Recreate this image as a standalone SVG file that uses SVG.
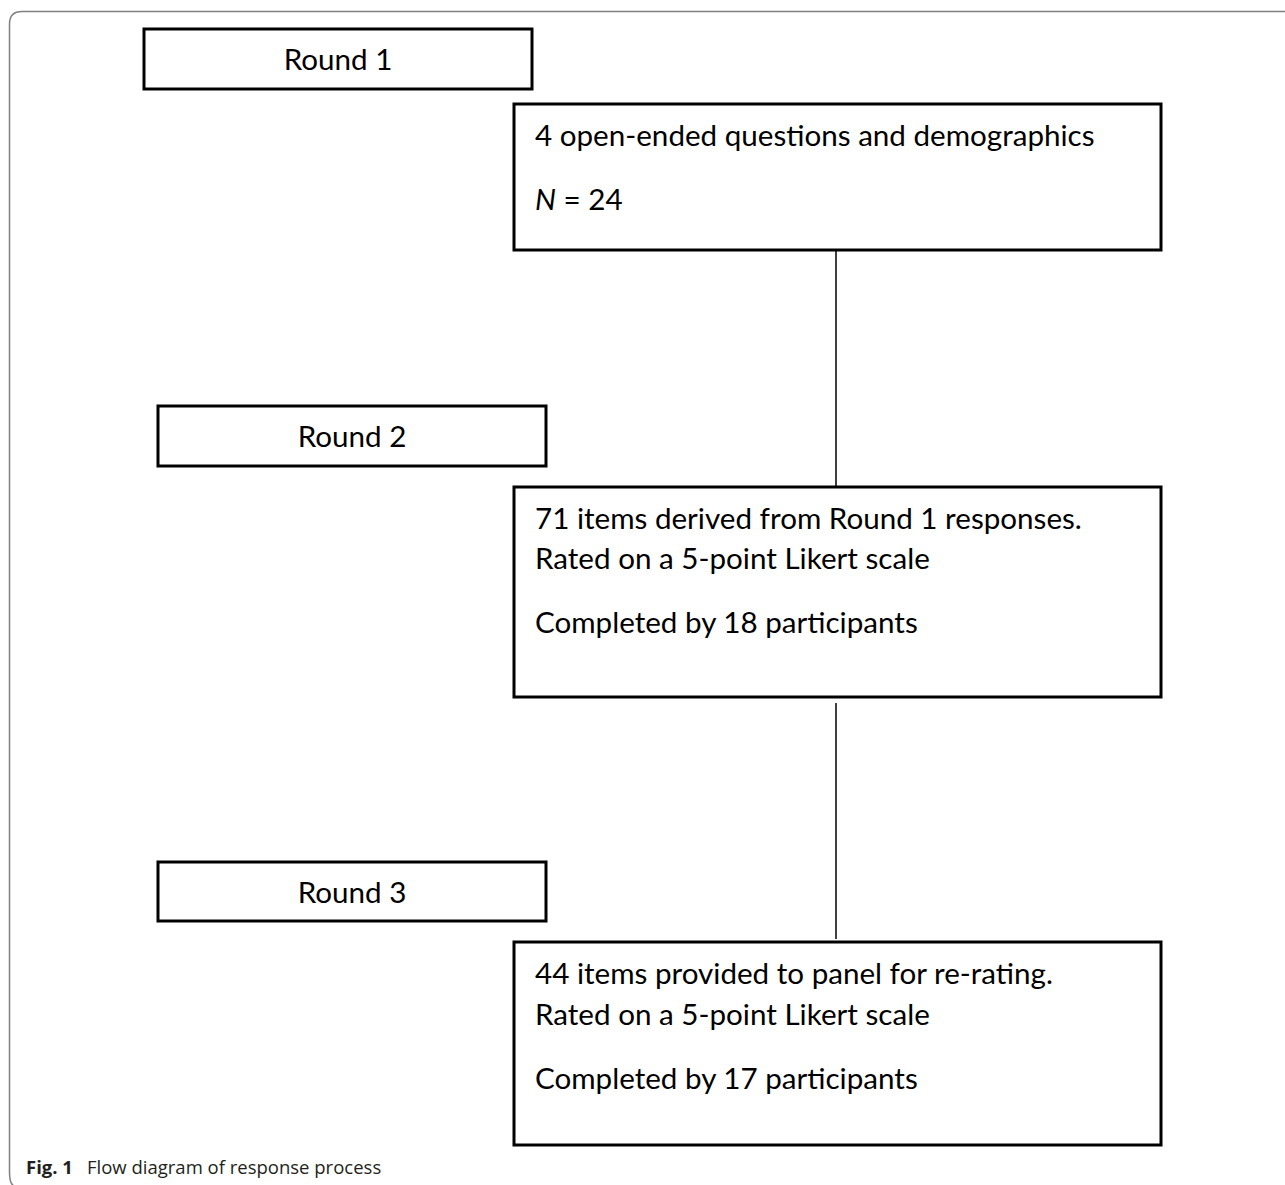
<svg xmlns="http://www.w3.org/2000/svg" width="1285" height="1185" viewBox="0 0 1285 1185">
<style>
.box{fill:#fff;stroke:#000;stroke-width:3}
.t{font-family:Lato,"Open Sans",sans-serif;font-size:29.6px;fill:#000}
.c{text-anchor:middle}
.ln{stroke:#000;stroke-width:1.5;fill:none}
.cap{font-family:"Open Sans",sans-serif;font-size:18.5px;fill:#231f20}
</style>
<rect width="1285" height="1185" fill="#fff"/>
<path d="M1285 11.5 H22 Q9.5 11.5 9.5 24 V1172 Q9.5 1184 14 1186" fill="none" stroke="#808080" stroke-width="1.5"/>
<g id="connectors">
<line class="ln" x1="836" y1="250" x2="836" y2="486"/>
<line class="ln" x1="836" y1="703" x2="836" y2="939"/>
</g>
<g id="round1">
<rect class="box" x="144" y="29" width="388" height="60"/>
<text class="t c" x="338" y="70">Round 1</text>
</g>
<g id="box1">
<rect class="box" x="514" y="104" width="647" height="146"/>
<text class="t" x="535" y="146">4 open-ended questions and demographics</text>
<text class="t" x="535" y="210"><tspan font-style="italic">N</tspan> = 24</text>
</g>
<g id="round2">
<rect class="box" x="158" y="406" width="388" height="60"/>
<text class="t c" x="352" y="447">Round 2</text>
</g>
<g id="box2">
<rect class="box" x="514" y="487" width="647" height="210"/>
<text class="t" x="535" y="529">71 items derived from Round 1 responses.</text>
<text class="t" x="535" y="569">Rated on a 5-point Likert scale</text>
<text class="t" x="535" y="633">Completed by 18 participants</text>
</g>
<g id="round3">
<rect class="box" x="158" y="862" width="388" height="59"/>
<text class="t c" x="352" y="903">Round 3</text>
</g>
<g id="box3">
<rect class="box" x="514" y="942" width="647" height="203"/>
<text class="t" x="535" y="984">44 items provided to panel for re-rating.</text>
<text class="t" x="535" y="1025">Rated on a 5-point Likert scale</text>
<text class="t" x="535" y="1089">Completed by 17 participants</text>
</g>
<text class="cap" x="26" y="1174"><tspan font-weight="bold">Fig. 1</tspan><tspan x="87">Flow diagram of response process</tspan></text>
</svg>
